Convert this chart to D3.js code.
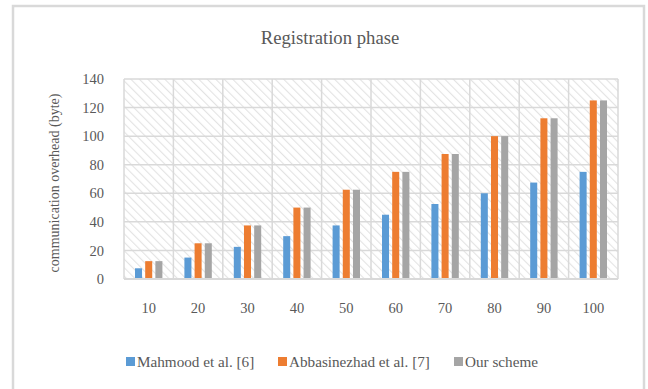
<!DOCTYPE html>
<html>
<head>
<meta charset="utf-8">
<script src="https://cdn.jsdelivr.net/npm/d3@7"></script>
<style>
  html, body { margin: 0; padding: 0; background: #fff; }
  svg { display: block; }
  svg text { font-family: "Liberation Serif", "Times New Roman", Times, "DejaVu Serif", serif !important; fill: #595959; }
</style>
</head>
<body>
<svg id="chart" width="648" height="389"></svg>
<script>
const categories = ["10", "20", "30", "40", "50", "60", "70", "80", "90", "100"];
const seriesNames = ["Mahmood et al. [6]", "Abbasinezhad et al. [7]", "Our scheme"];
const mahmood = [7.5, 15, 22.5, 30, 37.5, 45, 52.5, 60, 67.5, 75];
const abbasinezhad = [12.5, 25, 37.5, 50, 62.5, 75, 87.5, 100, 112.5, 125];
const ourScheme = [12.5, 25, 37.5, 50, 62.5, 75, 87.5, 100, 112.5, 125];
const yTicks = [0, 20, 40, 60, 80, 100, 120, 140];
const colors = ["#5b9bd5", "#ed7d31", "#a5a5a5"];
const titleText = "Registration phase";
const yTitle = "communication overhead (byte)";

const seriesValues = [mahmood, abbasinezhad, ourScheme];

const svg = d3.select("#chart");
const W = 648, H = 389;
const m = { left: 124, right: 30, top: 79, bottom: 110 };
const plotW = W - m.left - m.right;
const plotH = H - m.top - m.bottom;

svg.append("rect").attr("x", 13).attr("y", 6).attr("width", 631).attr("height", 400)
  .attr("fill", "#fff").attr("stroke", "#d9d9d9").attr("stroke-width", 2.5);

const defs = svg.append("defs");
const pat = defs.append("pattern").attr("id", "hatch").attr("patternUnits", "userSpaceOnUse")
  .attr("width", 6).attr("height", 6).attr("patternTransform", "rotate(-45)");
pat.append("rect").attr("width", 6).attr("height", 6).attr("fill", "#ffffff");
pat.append("line").attr("x1", 0).attr("y1", 0).attr("x2", 0).attr("y2", 6)
  .attr("stroke", "#e3e3e3").attr("stroke-width", 2.2);

const x = d3.scaleBand().domain(categories).range([m.left, m.left + plotW]).paddingInner(0).paddingOuter(0);
const y = d3.scaleLinear().domain([0, 140]).range([m.top + plotH, m.top]);
const xs = d3.scaleBand().domain(d3.range(3)).range([0, x.bandwidth()]).paddingInner(0.31).paddingOuter(1.08);

svg.append("rect").attr("x", m.left).attr("y", m.top).attr("width", plotW).attr("height", plotH)
  .attr("fill", "url(#hatch)");

svg.append("g").selectAll("line").data(yTicks).join("line")
  .attr("x1", m.left).attr("x2", m.left + plotW)
  .attr("y1", d => y(d)).attr("y2", d => y(d))
  .attr("stroke", "#d9d9d9").attr("stroke-width", 1.5);

const bounds = categories.map(c => x(c)).concat([m.left + plotW]);
svg.append("g").selectAll("line").data(bounds).join("line")
  .attr("x1", d => d).attr("x2", d => d)
  .attr("y1", m.top).attr("y2", m.top + plotH)
  .attr("stroke", "#d9d9d9").attr("stroke-width", 1.5);

seriesValues.forEach((vals, si) => {
  svg.append("g").selectAll("rect").data(vals).join("rect")
    .attr("x", (d, i) => x(categories[i]) + xs(si))
    .attr("width", xs.bandwidth())
    .attr("y", d => y(d))
    .attr("height", d => y(0) - y(d))
    .attr("fill", colors[si]);
});

svg.append("line").attr("x1", m.left).attr("x2", m.left + plotW)
  .attr("y1", y(0)).attr("y2", y(0)).attr("stroke", "#d9d9d9").attr("stroke-width", 2);

const yAxis = d3.axisLeft(y).tickValues(yTicks).tickSize(0).tickPadding(20);
const gy = svg.append("g").attr("transform", `translate(${m.left},0)`).call(yAxis)
  .attr("font-family", null).attr("font-size", null);
gy.select(".domain").remove();
gy.selectAll("text").style("font-size", "14.5px").attr("fill", "#595959");

const xAxis = d3.axisBottom(x).tickSize(0).tickPadding(24);
const gx = svg.append("g").attr("transform", `translate(0,${y(0)})`).call(xAxis)
  .attr("font-family", null).attr("font-size", null);
gx.select(".domain").remove();
gx.selectAll("text").style("font-size", "14.5px").attr("fill", "#595959");

svg.append("text").attr("x", 330).attr("y", 44).attr("text-anchor", "middle")
  .style("font-size", "18.7px").text(titleText);

svg.append("text").attr("transform", `translate(59,${m.top + plotH / 2 + 4}) rotate(-90)`)
  .attr("text-anchor", "middle").style("font-size", "14px").text(yTitle);

const legendX = [126, 278, 454];
const lg = svg.append("g");
seriesNames.forEach((name, i) => {
  lg.append("rect").attr("x", legendX[i]).attr("y", 357).attr("width", 9).attr("height", 9).attr("fill", colors[i]);
  lg.append("text").attr("x", legendX[i] + 11).attr("y", 367).style("font-size", "15.2px").text(name);
});
</script>
</body>
</html>
